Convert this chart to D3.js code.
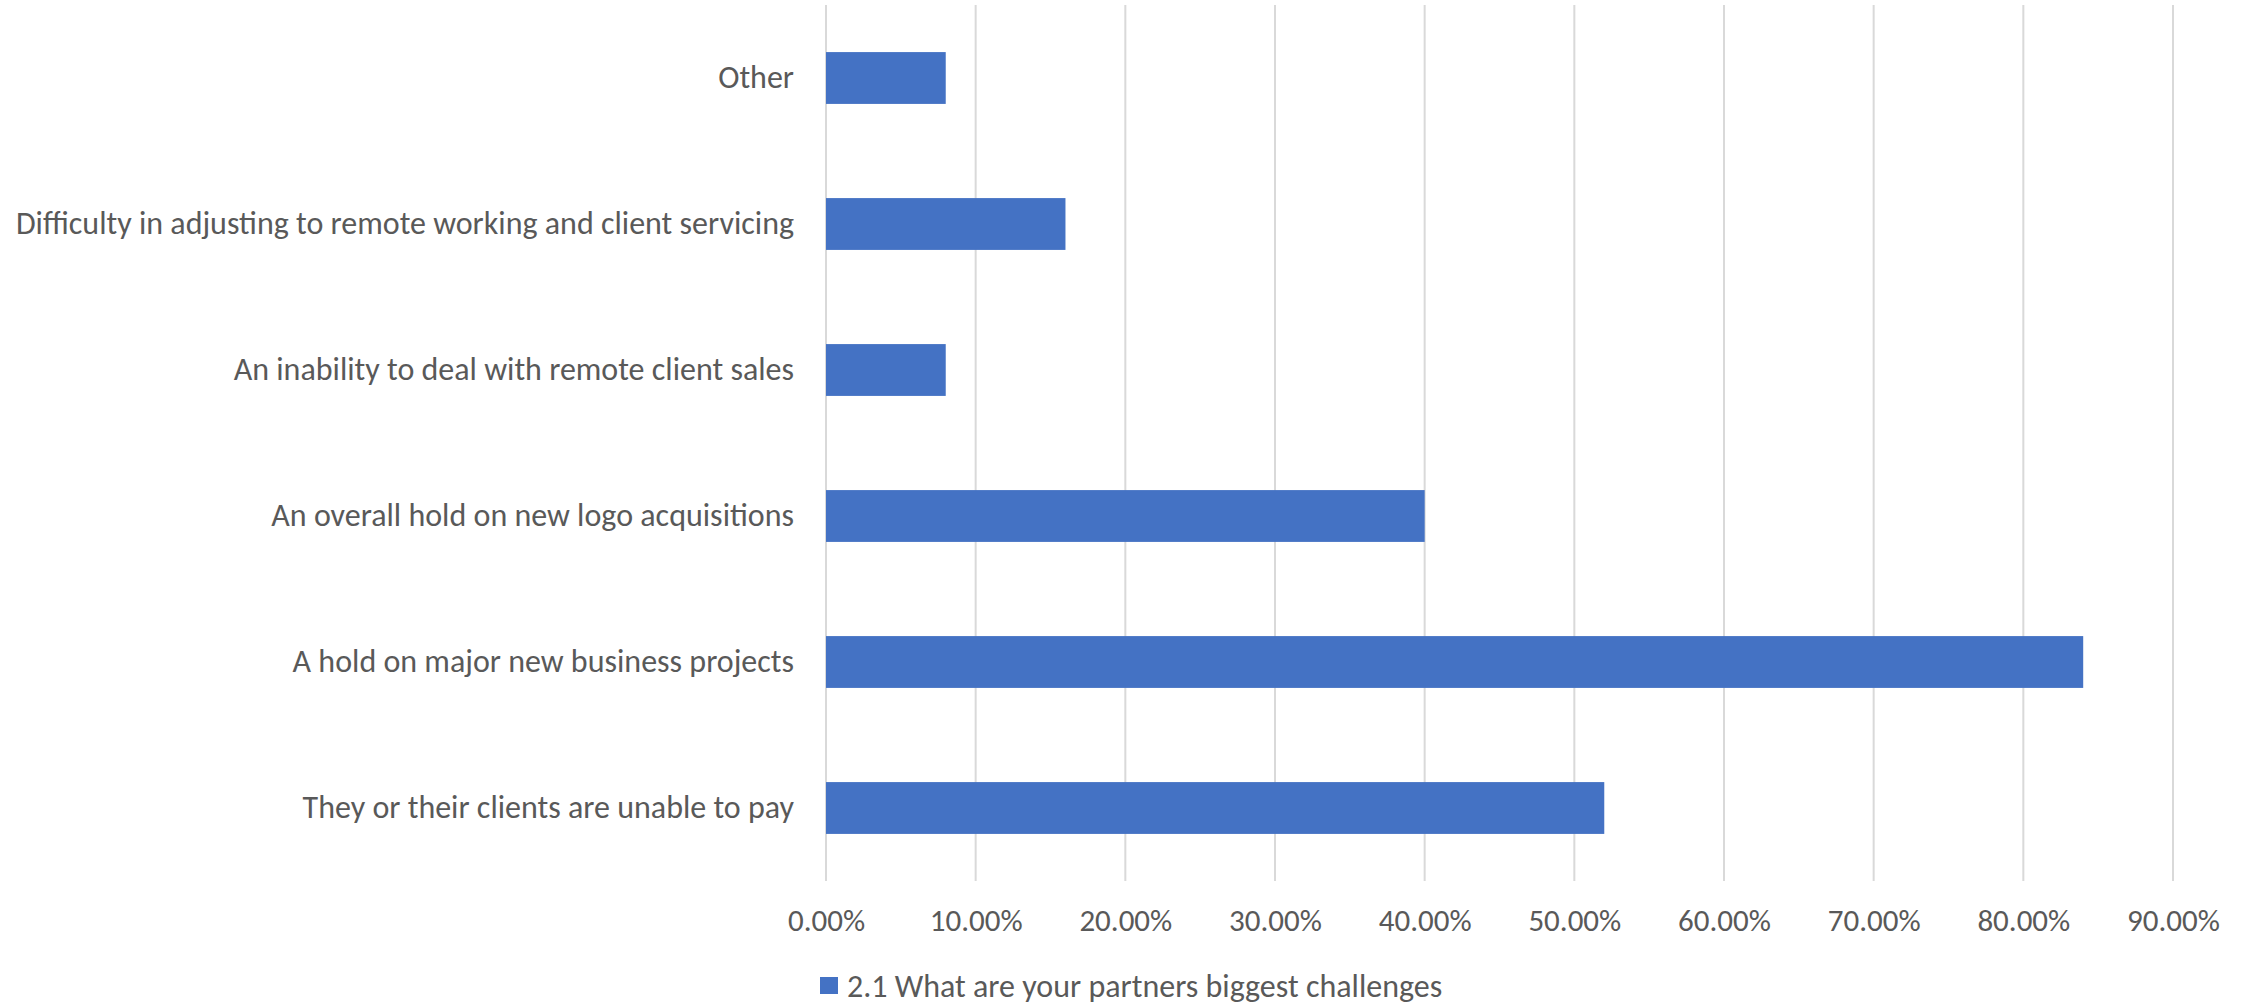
<!DOCTYPE html>
<html>
<head>
<meta charset="utf-8">
<script src="https://cdn.jsdelivr.net/npm/d3@7"></script>
<style>
  html, body { margin: 0; padding: 0; background: #ffffff; }
  svg { display: block; }
  text { font-family: Calibri, Carlito, Lato, "Open Sans", sans-serif; fill: #595959; }
</style>
</head>
<body>
<svg id="chart" width="2252" height="1004"></svg>
<script>
// Survey responses, listed bottom-to-top as they appear on the axis
const categories = [
  "They or their clients are unable to pay",
  "A hold on major new business projects",
  "An overall hold on new logo acquisitions",
  "An inability to deal with remote client sales",
  "Difficulty in adjusting to remote working and client servicing",
  "Other"
];
const values = [0.52, 0.84, 0.40, 0.08, 0.16, 0.08];
const tickValues = [0, 0.1, 0.2, 0.3, 0.4, 0.5, 0.6, 0.7, 0.8, 0.9];
const seriesName = "2.1 What are your partners biggest challenges";

const svg = d3.select("#chart");
const margin = { left: 826, right: 79, top: 5, bottom: 123 };
const W = 2252, H = 1004;
const labelSize = 32;
const tickSize = 31;

const x = d3.scaleLinear()
  .domain([0, 0.9])
  .range([margin.left, W - margin.right]);

// Top category first on screen
const y = d3.scaleBand()
  .domain(categories.slice().reverse())
  .range([margin.top, H - margin.bottom])
  .paddingInner(0.645)
  .paddingOuter(0.3225);

// Vertical gridlines
svg.append("g")
  .selectAll("line")
  .data(tickValues)
  .join("line")
  .attr("x1", d => x(d)).attr("x2", d => x(d))
  .attr("y1", margin.top).attr("y2", H - margin.bottom)
  .attr("stroke", "#d9d9d9")
  .attr("stroke-width", 2);

// Bars
svg.append("g")
  .selectAll("rect")
  .data(categories.map((c, i) => ({ c, v: values[i] })))
  .join("rect")
  .attr("x", x(0))
  .attr("y", d => y(d.c))
  .attr("width", d => x(d.v) - x(0))
  .attr("height", y.bandwidth())
  .attr("fill", "#4472C4");

// Category axis labels
const yAxis = d3.axisLeft(y).tickSize(0).tickPadding(32);
const gy = svg.append("g")
  .attr("transform", `translate(${x(0)},0)`)
  .call(yAxis);
gy.select(".domain").remove();
gy.selectAll("text")
  .attr("font-size", labelSize);

// Percentage axis labels
const xAxis = d3.axisBottom(x)
  .tickValues(tickValues)
  .tickFormat(d3.format(".2%"))
  .tickSize(0)
  .tickPadding(28);
const gx = svg.append("g")
  .attr("transform", `translate(0,${H - margin.bottom})`)
  .call(xAxis);
gx.select(".domain").remove();
gx.selectAll("text")
  .attr("font-size", tickSize);
svg.selectAll("g").attr("font-family", null).attr("font-size", null);

// Legend
const legend = svg.append("g").attr("transform", "translate(820,977)");
legend.append("rect")
  .attr("x", 0).attr("y", 0)
  .attr("width", 18).attr("height", 17)
  .attr("fill", "#4472C4");
legend.append("text")
  .attr("x", 27).attr("y", 9)
  .attr("dominant-baseline", "central")
  .attr("font-size", labelSize)
  .text(seriesName);
</script>
</body>
</html>
